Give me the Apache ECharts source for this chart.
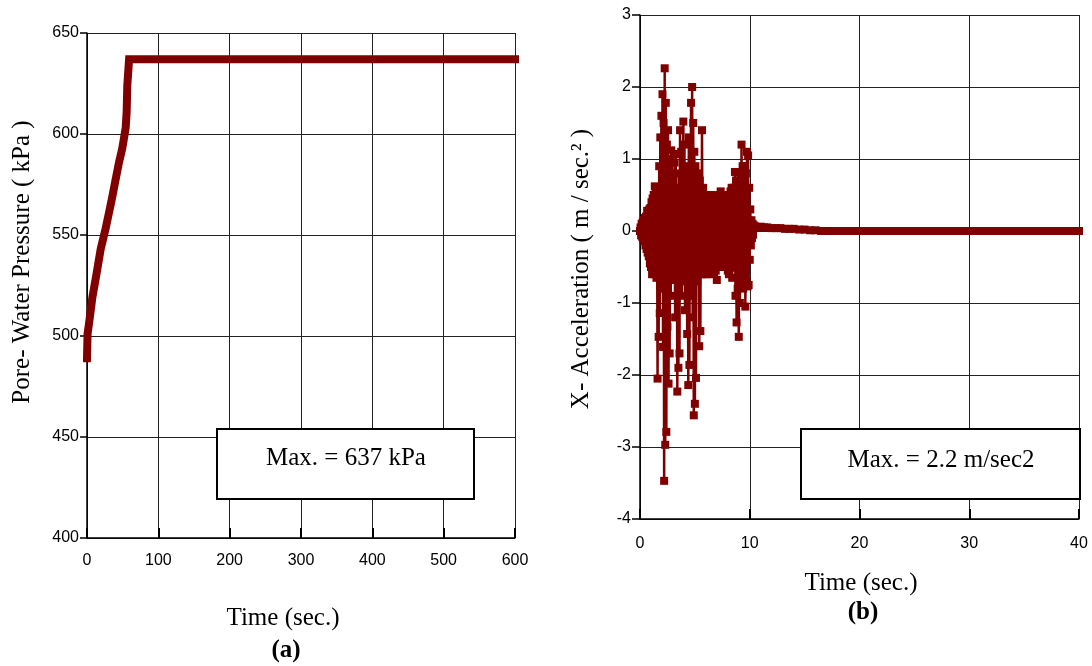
<!DOCTYPE html>
<html>
<head>
<meta charset="utf-8">
<script src="https://cdn.jsdelivr.net/npm/echarts@6/dist/echarts.min.js"></script>
<style>
html,body{margin:0;padding:0;background:#fff;}
#chart{width:1092px;height:666px;}
</style>
</head>
<body>
<div id="chart"></div>
<script>
// ---------- Data: (a) pore-water pressure ----------
const poreTime  = [0, 0.8, 3.9, 7.5, 13, 19.2, 26, 30.8, 35.5, 39.3, 44.9, 49.5, 54.2, 55.6, 56.5, 59, 100, 200, 300, 400, 500, 600];
const porePress = [489, 501, 509, 519, 530, 543, 553, 561, 569, 576, 586, 593, 603, 611, 624, 637, 637, 637, 637, 637, 637, 637];
const poreXTicks = [0, 100, 200, 300, 400, 500, 600];
const poreYTicks = [400, 450, 500, 550, 600, 650];

// ---------- Data: (b) X-acceleration ----------
const accStep = 0.05; // sampling step (s) of the strong-motion part, starting at t = 0
const accStrong = [
  // 0.00 - 0.95 s
  0, 0.05, -0.06, 0.1, -0.08, 0.12, -0.1, 0.15, -0.14, 0.18, -0.2, 0.2, -0.25, 0.28, -0.3, 0.25, -0.35, 0.3, -0.45, 0.32,
  // 1.00 - 1.95 s
  -0.5, 0.4, -0.6, 0.45, -0.55, 0.5, -0.6, 0.62, -0.4, 0.55, -0.65, 0.4, -2.05, 0.6, -1.47, 0.9, -1.14, 1.3, -0.6, 1.6,
  // 2.00 - 2.95 s
  -0.8, 1.9, -1.61, 1.5, -3.47, 2.26, -2.97, 1.78, -2.79, 1.2, -1.33, 1.4, -2.12, 0.9, -1.7, 1.0, -0.9, 1.12, -0.5, 0.8,
  // 3.00 - 3.95 s
  -0.68, 0.7, -0.6, 0.95, -1.2, 1.07, -0.5, 0.6, -2.23, 0.5, -1.9, 0.8, -1.7, 1.4, -0.7, 1.1, -0.9, 0.6, -0.55, 1.52,
  // 4.00 - 4.95 s
  -0.6, 1.2, -1.1, 0.7, -0.5, 0.9, -1.43, 0.6, -2.14, 1.3, -1.86, 0.8, -0.6, 1.78, -0.9, 2.0, -1.2, 1.5, -2.56, 1.1,
  // 5.00 - 5.95 s
  -2.4, 0.9, -2.04, 0.6, -0.7, 0.5, -0.6, 0.8, -1.6, 0.7, -1.39, 0.5, -0.6, 1.4, -0.5, 0.6, -0.55, 0.45, -0.6, 0.5,
  // 6.00 - 6.95 s
  -0.5, 0.45, -0.6, 0.4, -0.35, 0.48, -0.5, 0.3, -0.44, 0.45, -0.4, 0.5, -0.6, 0.35, -0.5, 0.48, -0.45, 0.4, -0.55, 0.45,
  // 7.00 - 7.95 s
  -0.68, 0.4, -0.5, 0.35, -0.45, 0.5, -0.4, 0.55, -0.35, 0.45, -0.5, 0.4, -0.45, 0.35, -0.4, 0.5, -0.5, 0.45, -0.45, 0.48,
  // 8.00 - 8.95 s
  -0.55, 0.4, -0.6, 0.5, -0.45, 0.55, -0.5, 0.6, -0.65, 0.45, -0.5, 0.6, -0.51, 0.82, -0.9, 0.7, -1.27, 0.5, -0.8, 0.6,
  // 9.00 - 9.95 s
  -1.47, 0.6, -1.0, 0.8, -0.7, 1.2, -0.6, 0.9, -0.8, 0.7, -0.6, 0.9, -1.05, 0.8, -0.7, 1.1, -0.77, 1.05, -0.75, 0.6,
  // 10.00 - 10.45 s
  -0.4, 0.3, -0.2, 0.15, -0.1, 0.1, -0.05, 0.08, 0.06, 0.06
];
const accTailTime = [10.5, 10.7, 11, 11.3, 11.6, 12, 12.4, 12.8, 13.2, 13.6, 14, 14.5, 15, 15.5, 16,
  16.5, 17, 17.5, 18, 18.5, 19, 19.5, 20, 20.5, 21, 21.5, 22, 22.5, 23, 23.5, 24, 24.5, 25, 25.5,
  26, 26.5, 27, 27.5, 28, 28.5, 29, 29.5, 30, 30.5, 31, 31.5, 32, 32.5, 33, 33.5, 34, 34.5, 35, 35.5,
  36, 36.5, 37, 37.5, 38, 38.5, 39, 39.5, 40];
const accTailVal = [0.06, 0.05, 0.06, 0.05, 0.05, 0.04, 0.04, 0.04, 0.03, 0.03, 0.03, 0.02, 0.02, 0.01, 0.01,
  0, 0, 0, 0, 0, 0, 0, 0, 0, 0, 0, 0, 0, 0, 0, 0, 0, 0, 0,
  0, 0, 0, 0, 0, 0, 0, 0, 0, 0, 0, 0, 0, 0, 0, 0, 0, 0, 0, 0,
  0, 0, 0, 0, 0, 0, 0, 0, 0];
const accXTicks = [0, 10, 20, 30, 40];
const accYTicks = [-4, -3, -2, -1, 0, 1, 2, 3];

// ---------- Build ----------
const poreData = poreTime.map((t, i) => [t, porePress[i]]);
const accData = accStrong.map((v, i) => [+(i * accStep).toFixed(2), v])
  .concat(accTailTime.map((t, i) => [t, accTailVal[i]]));

const RED = '#800000';
const tickFont = "'Liberation Sans', Arial, sans-serif";
const serif = "'Liberation Serif', 'Times New Roman', serif";
const tickLabel = (margin) => ({ color: '#000', fontFamily: tickFont, fontSize: 16, margin: margin });

function axisCommon(extra) {
  return Object.assign({
    axisLine: { show: true, onZero: false, lineStyle: { color: '#000', width: 1.5 } },
    splitLine: { show: true, lineStyle: { color: '#222', width: 1 } }
  }, extra);
}

const chart = echarts.init(document.getElementById('chart'), null, { renderer: 'canvas' });
chart.setOption({
  backgroundColor: '#fff',
  animation: false,
  grid: [
    { left: 87, top: 33, width: 428, height: 505 },
    { left: 640, top: 15, width: 439, height: 504 }
  ],
  xAxis: [
    axisCommon({ gridIndex: 0, type: 'value', min: poreXTicks[0], max: poreXTicks[poreXTicks.length - 1], interval: 100,
      axisTick: { show: true, inside: true, length: 10, lineStyle: { color: '#000', width: 2 } },
      axisLabel: tickLabel(15) }),
    axisCommon({ gridIndex: 1, type: 'value', min: accXTicks[0], max: accXTicks[accXTicks.length - 1], interval: 10,
      axisTick: { show: true, inside: true, length: 10, lineStyle: { color: '#000', width: 2 } },
      axisLabel: tickLabel(17) })
  ],
  yAxis: [
    axisCommon({ gridIndex: 0, type: 'value', min: poreYTicks[0], max: poreYTicks[poreYTicks.length - 1], interval: 50,
      axisTick: { show: true, inside: false, length: 7, lineStyle: { color: '#000', width: 1.5 } },
      axisLabel: tickLabel(8) }),
    axisCommon({ gridIndex: 1, type: 'value', min: accYTicks[0], max: accYTicks[accYTicks.length - 1], interval: 1,
      axisTick: { show: true, inside: false, length: 8, lineStyle: { color: '#000', width: 1.5 } },
      axisLabel: tickLabel(9) })
  ],
  series: [
    { type: 'line', xAxisIndex: 0, yAxisIndex: 0, data: poreData, symbol: 'none',
      lineStyle: { color: RED, width: 8, cap: 'square', join: 'miter' }, z: 3 },
    { type: 'line', xAxisIndex: 1, yAxisIndex: 1, data: accData, symbol: 'rect', symbolSize: 8,
      itemStyle: { color: RED }, lineStyle: { color: RED, width: 2.5 }, z: 3 }
  ],
  graphic: [
    // annotation boxes
    { type: 'rect', shape: { x: 217, y: 429, width: 257, height: 70 }, style: { fill: '#fff', stroke: '#000', lineWidth: 2 }, z: 10 },
    { type: 'text', x: 346, y: 458, z: 11, style: { text: 'Max. = 637 kPa', font: '25px ' + serif, fill: '#000', textAlign: 'center', textVerticalAlign: 'middle', align: 'center', verticalAlign: 'middle' } },
    { type: 'rect', shape: { x: 801, y: 429, width: 279, height: 70 }, style: { fill: '#fff', stroke: '#000', lineWidth: 2 }, z: 10 },
    { type: 'text', x: 941, y: 460, z: 11, style: { text: 'Max. = 2.2 m/sec2', font: '25px ' + serif, fill: '#000', textAlign: 'center', textVerticalAlign: 'middle', align: 'center', verticalAlign: 'middle' } },
    // axis titles
    { type: 'text', x: 22, y: 262, rotation: Math.PI / 2, z: 11, style: { text: 'Pore- Water Pressure ( kPa )', font: '25px ' + serif, fill: '#000', textAlign: 'center', textVerticalAlign: 'middle', align: 'center', verticalAlign: 'middle' } },
    { type: 'text', x: 283, y: 618, z: 11, style: { text: 'Time (sec.)', font: '25px ' + serif, fill: '#000', textAlign: 'center', textVerticalAlign: 'middle', align: 'center', verticalAlign: 'middle' } },
    { type: 'text', x: 286, y: 651, z: 11, style: { text: '(a)', font: 'bold 25px ' + serif, fill: '#000', textAlign: 'center', textVerticalAlign: 'middle', align: 'center', verticalAlign: 'middle' } },
    { type: 'text', x: 581, y: 269, rotation: Math.PI / 2, z: 11, style: { text: 'X- Acceleration ( m / sec.\u00B2 )', font: '25px ' + serif, fill: '#000', textAlign: 'center', textVerticalAlign: 'middle', align: 'center', verticalAlign: 'middle' } },
    { type: 'text', x: 861, y: 583, z: 11, style: { text: 'Time (sec.)', font: '25px ' + serif, fill: '#000', textAlign: 'center', textVerticalAlign: 'middle', align: 'center', verticalAlign: 'middle' } },
    { type: 'text', x: 863, y: 613, z: 11, style: { text: '(b)', font: 'bold 25px ' + serif, fill: '#000', textAlign: 'center', textVerticalAlign: 'middle', align: 'center', verticalAlign: 'middle' } }
  ]
});
</script>
</body>
</html>
